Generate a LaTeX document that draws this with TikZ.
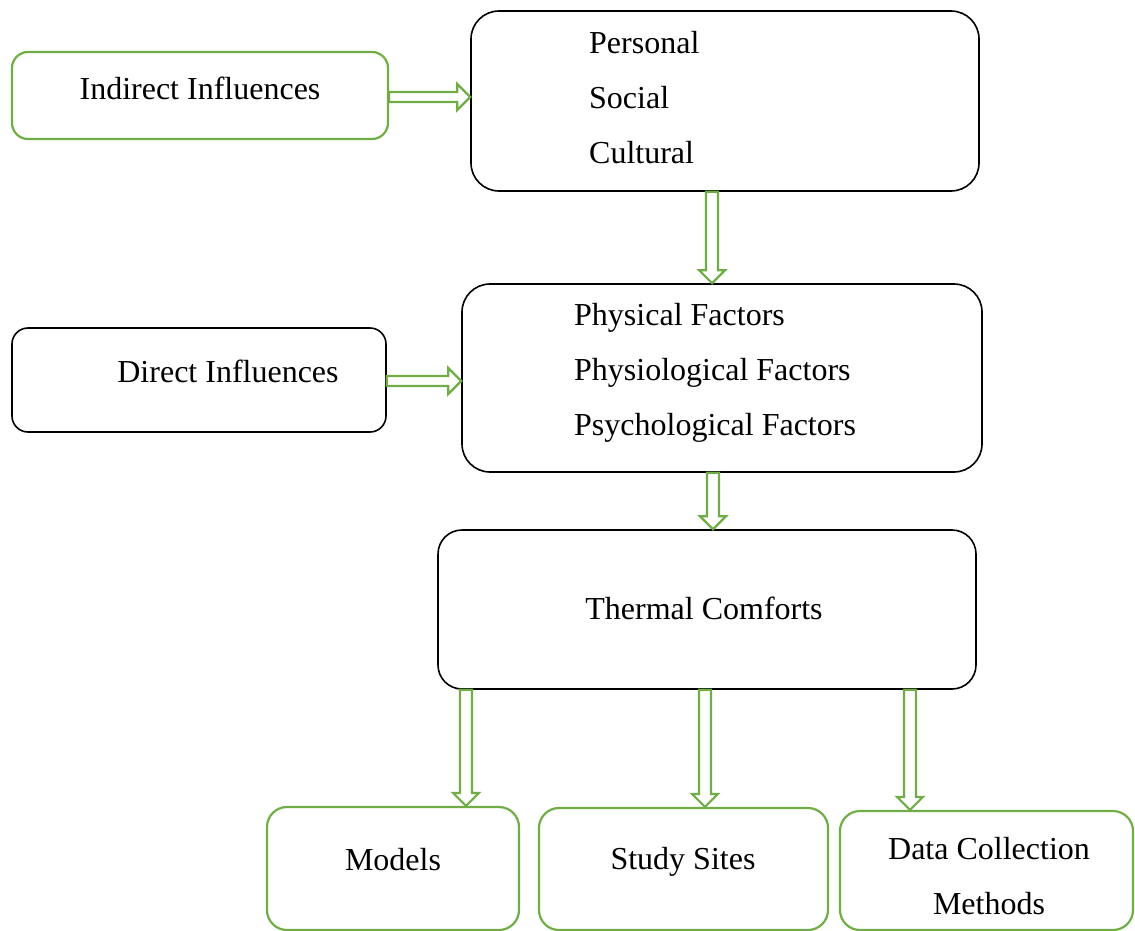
\documentclass[tikz,border=0pt]{standalone}
\usepackage{fontspec}
\setmainfont{Liberation Serif}
\usetikzlibrary{calc}
\definecolor{grn}{HTML}{70AD47}
\tikzset{
  box/.style={draw=black, line width=1.6pt, rounded corners=22pt, inner sep=0pt},
  gbox/.style={draw=grn, line width=2.2pt, rounded corners=16pt, inner sep=0pt},
  lbl/.style={inner sep=0pt, font=\fontsize{32}{55}\selectfont},
  barrow/.style={draw=grn, line width=2.2pt, fill=white, line join=miter}
}
\newcommand\rblock[2]{%
  \draw[barrow] let \p1=(#1), \p2=(#2) in
    (\x1,\y1+5pt) -- (\x2-13pt,\y1+5pt) -- (\x2-13pt,\y1+13pt) -- (\x2,\y1)
    -- (\x2-13pt,\y1-13pt) -- (\x2-13pt,\y1-5pt) -- (\x1,\y1-5pt) -- cycle;}
\newcommand\dblock[2]{%
  \draw[barrow] let \p1=(#1), \p2=(#2) in
    (\x1-6pt,\y1) -- (\x1-6pt,\y2+13pt) -- (\x1-13pt,\y2+13pt) -- (\x1,\y2)
    -- (\x1+13pt,\y2+13pt) -- (\x1+6pt,\y2+13pt) -- (\x1+6pt,\y1) -- cycle;}
\begin{document}
\begin{tikzpicture}[x=1pt,y=-1pt]
\useasboundingbox (0,0) rectangle (1135,931);
% boxes
\node[gbox, minimum width=376pt, minimum height=87pt] (indirect) at (200,95.5) {};
\node[box, rounded corners=28pt, minimum width=508pt, minimum height=180pt] (top) at (725,101) {};
\node[box, rounded corners=16pt, minimum width=374pt, minimum height=104pt] (direct) at (199,380) {};
\node[box, rounded corners=28pt, minimum width=520pt, minimum height=188pt] (mid) at (722,378) {};
\node[box, rounded corners=24pt, minimum width=538pt, minimum height=159pt] (thermal) at (707,609.5) {};
\node[gbox, rounded corners=20pt, minimum width=252pt, minimum height=123pt] (models) at (393,868.5) {};
\node[gbox, rounded corners=20pt, minimum width=289pt, minimum height=122pt] (study) at (683.5,869) {};
\node[gbox, rounded corners=20pt, minimum width=293pt, minimum height=119pt] (data) at (986.5,870.5) {};
% labels
\node[lbl] (tindirect) at (200,88) {Indirect Influences};
\node[lbl, anchor=west] (ttop) at (589,98) {\begin{tabular}{@{}l@{}}Personal\\Social\\Cultural\end{tabular}};
\node[lbl] (tdirect) at (228,371) {Direct Influences};
\node[lbl, anchor=west] (tmid) at (574,369) {\begin{tabular}{@{}l@{}}Physical Factors\\Physiological Factors\\Psychological Factors\end{tabular}};
\node[lbl] (tthermal) at (704,608) {Thermal Comforts};
\node[lbl] (tmodels) at (393,860) {Models};
\node[lbl] (tstudy) at (683,862) {Study Sites};
\node[lbl] (tdata) at (989,875.5) {\begin{tabular}{@{}c@{}}Data Collection\\Methods\end{tabular}};
% coordinates for arrow ends
\coordinate (a1s) at (indirect.east |- 0,97);
\coordinate (a1e) at (top.west |- 0,97);
\coordinate (a2s) at (direct.east |- 0,381);
\coordinate (a2e) at (mid.west |- 0,381);
\coordinate (a3s) at (top.south -| 712,0);
\coordinate (a3e) at (mid.north -| 712,0);
\coordinate (a4s) at (mid.south -| 713,0);
\coordinate (a4e) at (thermal.north -| 713,0);
\coordinate (a5s) at (thermal.south -| 466,0);
\coordinate (a5e) at (models.north -| 466,0);
\coordinate (a6s) at (thermal.south -| 705,0);
\coordinate (a6e) at (study.north -| 705,0);
\coordinate (a7s) at (thermal.south -| 910,0);
\coordinate (a7e) at (data.north -| 910,0);
% arrows
\rblock{a1s}{a1e}
\rblock{a2s}{a2e}
\dblock{a3s}{a3e}
\dblock{a4s}{a4e}
\dblock{a5s}{a5e}
\dblock{a6s}{a6e}
\dblock{a7s}{a7e}
\end{tikzpicture}
\end{document}
